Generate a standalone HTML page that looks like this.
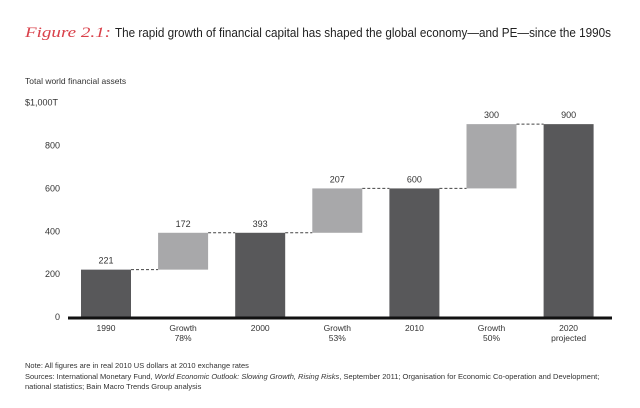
<!DOCTYPE html>
<html><head><meta charset="utf-8"><style>
body{margin:0;background:#fff;width:640px;height:403px;overflow:hidden;font-family:"Liberation Sans",sans-serif;}
svg text{font-family:"Liberation Sans",sans-serif;fill:#333}
</style></head><body>
<svg width="640" height="403">
<text x="25" y="37" font-size="15" font-style="italic" textLength="86" lengthAdjust="spacingAndGlyphs" style="fill:#d9404a;font-family:'Liberation Serif',serif">Figure 2.1:</text>
<text x="115" y="37" font-size="12.5" textLength="496" lengthAdjust="spacingAndGlyphs" style="fill:#222">The rapid growth of financial capital has shaped the global economy—and PE—since the 1990s</text>
<text x="25" y="84" font-size="8.5">Total world financial assets</text>
<g id="yt"></g><g id="bars"></g>
<line x1="68" x2="612" y1="318" y2="318" stroke="#111" stroke-width="3"/>
<text x="25" y="368" font-size="7.5">Note: All figures are in real 2010 US dollars at 2010 exchange rates</text>
<text x="25" y="379" font-size="7.5">Sources: International Monetary Fund, <tspan font-style="italic">World Economic Outlook: Slowing Growth, Rising Risks</tspan>, September 2011; Organisation for Economic Co-operation and Development;</text>
<text x="25" y="389" font-size="7.5">national statistics; Bain Macro Trends Group analysis</text>
</svg>
<script>
const categories=["1990","Growth|78%","2000","Growth|53%","2010","Growth|50%","2020|projected"];
const values=[221,172,393,207,600,300,900];
const isTotal=[true,false,true,false,true,false,true];
const yTicks=[0,200,400,600,800,1000];
const yTickLabels=["0","200","400","600","800","$1,000T"];
const NS="http://www.w3.org/2000/svg";
const y=v=>317-v*0.2143;
const x=i=>81+i*77.1;
const bw=50;
const yt=document.getElementById('yt'),bars=document.getElementById('bars');
function mk(tag,attrs,parent,txt){const e=document.createElementNS(NS,tag);for(const k in attrs)e.setAttribute(k,attrs[k]);if(txt!=null)e.textContent=txt;parent.appendChild(e);return e;}
yTicks.forEach((t,i)=>{const e=mk('text',{x:i==5?25:60,y:y(t)+3,'font-size':9,'text-anchor':i==5?'start':'end'},yt,yTickLabels[i]);

});
let run=0;
values.forEach((v,i)=>{
 let lo,hi;
 if(isTotal[i]){lo=0;hi=v;run=v;}else{lo=run;hi=run+v;run=hi;}
 const r=mk('rect',{x:x(i),y:y(hi),width:bw,height:y(lo)-y(hi),fill:isTotal[i]?'#58585a':'#a8a8aa'},bars);
 
 
 const l=mk('text',{x:x(i)+bw/2,y:y(hi)-6,'font-size':9,'text-anchor':'middle'},bars,String(v));
 
 
 if(i<values.length-1){const ln=mk('line',{x1:x(i)+bw,x2:x(i+1),y1:y(hi),y2:y(hi),stroke:'#444','stroke-dasharray':'3,2'},bars);
 
 }
 categories[i].split('|').forEach((s,j)=>{const c=mk('text',{x:x(i)+bw/2,y:331+j*10,'font-size':8.5,'text-anchor':'middle'},bars,s);
 
 });
});
</script>
</body></html>
